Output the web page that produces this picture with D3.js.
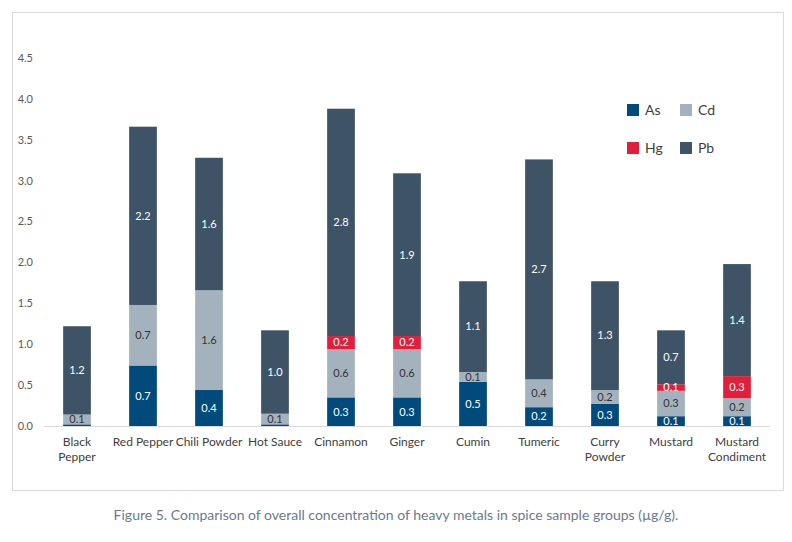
<!DOCTYPE html>
<html>
<head>
<script src="https://cdnjs.cloudflare.com/ajax/libs/d3/7.8.5/d3.min.js"></script>
<style>
body { margin: 0; background: #fff; font-family: Lato, "Open Sans", sans-serif; }
</style>
</head>
<body>
<svg id="chart" width="792" height="542"></svg>
<script>
// Data (bar heights) and the printed segment labels
const categories = ["Black Pepper", "Red Pepper", "Chili Powder", "Hot Sauce", "Cinnamon", "Ginger",
                    "Cumin", "Tumeric", "Curry Powder", "Mustard", "Mustard Condiment"];
const series = ["As", "Cd", "Hg", "Pb"];
const asVals = [0.02, 0.74, 0.44, 0.02, 0.35, 0.35, 0.54, 0.23, 0.27, 0.12, 0.12];
const cdVals = [0.12, 0.74, 1.22, 0.13, 0.59, 0.59, 0.12, 0.34, 0.17, 0.31, 0.22];
const hgVals = [0, 0, 0, 0, 0.16, 0.16, 0, 0, 0, 0.08, 0.27];
const pbVals = [1.08, 2.18, 1.62, 1.02, 2.78, 1.99, 1.11, 2.69, 1.33, 0.66, 1.37];
const asLabels = [null, "0.7", "0.4", null, "0.3", "0.3", "0.5", "0.2", "0.3", "0.1", "0.1"];
const cdLabels = ["0.1", "0.7", "1.6", "0.1", "0.6", "0.6", "0.1", "0.4", "0.2", "0.3", "0.2"];
const hgLabels = [null, null, null, null, "0.2", "0.2", null, null, null, "0.1", "0.3"];
const pbLabels = ["1.2", "2.2", "1.6", "1.0", "2.8", "1.9", "1.1", "2.7", "1.3", "0.7", "1.4"];
const yTicks = [0, 0.5, 1.0, 1.5, 2.0, 2.5, 3.0, 3.5, 4.0, 4.5];

const colors = { As: "#004a7c", Cd: "#a3b2bd", Hg: "#e11f3a", Pb: "#3e5366" };
const textColors = { As: "#fff", Cd: "#333", Hg: "#fff", Pb: "#fff" };

const valueMap = { As: asVals, Cd: cdVals, Hg: hgVals, Pb: pbVals };
const labelMap = { As: asLabels, Cd: cdLabels, Hg: hgLabels, Pb: pbLabels };
const rows = categories.map((c, i) => {
  const r = { cat: c };
  series.forEach(s => r[s] = valueMap[s][i]);
  return r;
});

const svg = d3.select("#chart");
svg.append("rect").attr("x", 12.5).attr("y", 12.5).attr("width", 771).attr("height", 478)
  .attr("fill", "#fff").attr("stroke", "#d9d9d9");

const x = d3.scaleBand().domain(categories).range([44, 770]).paddingInner(0.58).paddingOuter(0.29);
const y = d3.scaleLinear().domain([0, 4.5]).range([426, 58]);

// y tick labels
svg.append("g").selectAll("text").data(yTicks).join("text")
  .attr("x", 33).attr("y", d => y(d)).attr("dy", "0.35em")
  .attr("text-anchor", "end").attr("font-size", 11).attr("fill", "#595959")
  .text(d => d.toFixed(1));

svg.append("line").attr("x1", 44).attr("x2", 770).attr("y1", 426.5).attr("y2", 426.5)
  .attr("stroke", "#d9d9d9");

const stacked = d3.stack().keys(series)(rows);

const layer = svg.append("g").selectAll("g").data(stacked).join("g")
  .attr("fill", d => colors[d.key]);
layer.selectAll("rect").data(d => d).join("rect")
  .attr("x", d => x(d.data.cat))
  .attr("width", x.bandwidth())
  .attr("y", d => y(d[1]))
  .attr("height", d => y(d[0]) - y(d[1]));

svg.append("g").selectAll("g").data(stacked).join("g")
  .each(function(layerData) {
    const key = layerData.key;
    d3.select(this).selectAll("text").data(layerData.filter((d, i) => labelMap[key][i] !== null))
      .join("text")
      .attr("x", d => x(d.data.cat) + x.bandwidth() / 2)
      .attr("y", d => (y(d[0]) + y(d[1])) / 2)
      .attr("dy", "0.35em")
      .attr("text-anchor", "middle").attr("font-size", 11)
      .attr("fill", textColors[key])
      .text(d => labelMap[key][categories.indexOf(d.data.cat)]);
  });

// x category labels (wrapped like the figure), one text per line
const wrapped = { "Black Pepper": ["Black", "Pepper"], "Curry Powder": ["Curry", "Powder"],
                  "Mustard Condiment": ["Mustard", "Condiment"] };
const xLines = categories.flatMap(c => (wrapped[c] || [c]).map((t, i) => ({ c, t, i })));
svg.append("g").selectAll("text").data(xLines).join("text")
  .attr("x", d => x(d.c) + x.bandwidth() / 2).attr("y", d => 446 + d.i * 15)
  .attr("text-anchor", "middle").attr("font-size", 12).attr("fill", "#404040")
  .text(d => d.t);

// legend
const legendPos = [[627, 110], [680, 110], [627, 148], [680, 148]];
const lg = svg.append("g").selectAll("g").data(series).join("g")
  .attr("transform", (d, i) => `translate(${legendPos[i][0]},${legendPos[i][1]})`);
lg.append("rect").attr("x", 0).attr("y", -6).attr("width", 12).attr("height", 12)
  .attr("fill", d => colors[d]);
lg.append("text").attr("x", 18).attr("dy", "0.35em").attr("font-size", 14).attr("fill", "#404040")
  .text(d => d);

svg.append("text").attr("x", 396).attr("y", 520).attr("text-anchor", "middle")
  .attr("font-size", 14).attr("fill", "#6b7a8a")
  .text("Figure 5. Comparison of overall concentration of heavy metals in spice sample groups (µg/g).");
</script>
</body>
</html>
